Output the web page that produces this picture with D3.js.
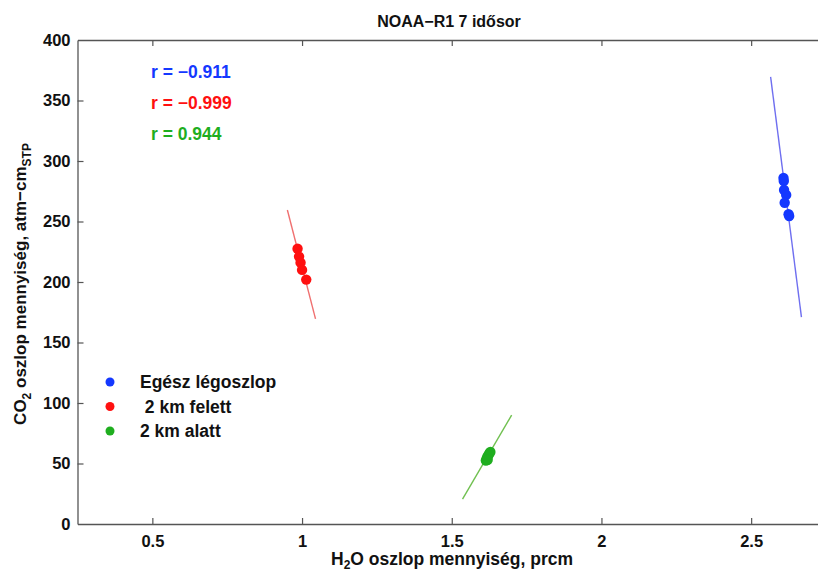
<!DOCTYPE html>
<html><head><meta charset="utf-8">
<script src="https://cdn.jsdelivr.net/npm/d3@7"></script>
<style>
body{margin:0;background:#fff;}
svg{display:block;font-family:Arial,"Liberation Sans",sans-serif;}
</style></head>
<body><svg id="c" width="818" height="574"></svg>
<script>
// Data
const xTicks = [0.5, 1, 1.5, 2, 2.5];
const yTicks = [0, 50, 100, 150, 200, 250, 300, 350, 400];
const seriesNames = ["Egész légoszlop", " 2 km felett", "2 km alatt"];
const seriesColors = ["#1438ff", "#ff1010", "#1fae1f"];
const lineColors = ["#6f6ff0", "#f07070", "#70c050"];
const rLabels = ["r = \u22120.911", "r = \u22120.999", "r = 0.944"];
const blueX = [2.608, 2.609, 2.610, 2.617, 2.612, 2.625, 2.627];
const blueY = [286, 283.5, 276, 272, 265.5, 256, 254.5];
const redX = [0.985, 0.990, 0.995, 1.000, 1.014];
const redY = [227.5, 221, 216, 210, 202];
const greenX = [1.614, 1.617, 1.620, 1.623, 1.626, 1.629, 1.620];
const greenY = [52.5, 54.5, 56, 57, 58.5, 59.5, 53];
// regression line endpoints [x1,y1,x2,y2]
const blueFit = [2.565, 369.5, 2.668, 171];
const redFit = [0.951, 259.5, 1.045, 169.5];
const greenFit = [1.536, 20.5, 1.700, 90];

const series = [
  {x: blueX, y: blueY, fit: blueFit},
  {x: redX, y: redY, fit: redFit},
  {x: greenX, y: greenY, fit: greenFit}
];

const svg = d3.select("#c");
const L = 77.5, T = 40, B = 524;
const x = d3.scaleLinear().domain([0.25, 2.75]).range([L, L + 2.5 * 299.4]);
const y = d3.scaleLinear().domain([0, 400]).range([B, T]);

const axisColor = "#555";
// axes
const gx = svg.append("g").attr("transform", `translate(0,${B})`)
  .call(d3.axisBottom(x).tickValues(xTicks).tickSizeInner(-6).tickSizeOuter(0).tickPadding(18).tickFormat(d3.format("")));
const gxt = svg.append("g").attr("transform", `translate(0,${T})`)
  .call(d3.axisTop(x).tickValues(xTicks).tickSizeInner(-6).tickSizeOuter(0).tickFormat(""));
const gy = svg.append("g").attr("transform", `translate(${L},0)`)
  .call(d3.axisLeft(y).tickValues(yTicks).tickSizeInner(-6).tickSizeOuter(0).tickPadding(7));
[gx, gxt, gy].forEach(g => {
  g.selectAll("path.domain").attr("stroke", axisColor).attr("stroke-width", 1.3);
  g.selectAll(".tick line").attr("stroke", axisColor).attr("stroke-width", 1.2);
  g.selectAll("text").attr("fill", "#111").attr("font-size", 16.5).attr("font-weight", "bold");
});
gx.selectAll("text").attr("dy", "0.3em");
gy.selectAll(".tick").filter(d => d === 0 || d === 400).select("line").remove();

// fit lines
series.forEach((s, i) => {
  svg.append("line")
    .attr("x1", x(s.fit[0])).attr("y1", y(s.fit[1]))
    .attr("x2", x(s.fit[2])).attr("y2", y(s.fit[3]))
    .attr("stroke", lineColors[i]).attr("stroke-width", 1.4);
});
// points
series.forEach((s, i) => {
  svg.append("g").selectAll("circle").data(s.x.map((v, j) => [v, s.y[j]]))
    .join("circle")
    .attr("cx", d => x(d[0])).attr("cy", d => y(d[1])).attr("r", 5.2)
    .attr("fill", seriesColors[i]);
});

// r labels
rLabels.forEach((t, i) => {
  svg.append("text").attr("x", 151).attr("y", 78 + i * 31)
    .attr("font-size", 17.5).attr("font-weight", "bold").attr("fill", seriesColors[i]).text(t);
});

// legend
seriesNames.forEach((t, i) => {
  const yy = 382 + i * 24.5;
  svg.append("circle").attr("cx", 110).attr("cy", yy).attr("r", 4.5).attr("fill", seriesColors[i]);
  svg.append("text").attr("x", 140).attr("y", yy + 6).attr("font-size", 17.5)
    .attr("font-weight", "bold").attr("fill", "#111").attr("xml:space", "preserve").text(t);
});

// title
svg.append("text").attr("x", 449).attr("y", 27).attr("text-anchor", "middle")
  .attr("font-size", 16).attr("font-weight", "bold").attr("fill", "#111").text("NOAA\u2212R1 7 idősor");

// x label
const xl = svg.append("text").attr("x", 452).attr("y", 565).attr("text-anchor", "middle")
  .attr("font-size", 17.5).attr("font-weight", "bold").attr("fill", "#111");
xl.append("tspan").text("H");
xl.append("tspan").attr("font-size", 12).attr("dy", 4).text("2");
xl.append("tspan").attr("dy", -4).text("O oszlop mennyiség, prcm");

// y label
const yl = svg.append("text").attr("transform", "translate(26,284) rotate(-90)")
  .attr("text-anchor", "middle").attr("font-size", 17).attr("font-weight", "bold").attr("fill", "#111");
yl.append("tspan").text("CO");
yl.append("tspan").attr("font-size", 12).attr("dy", 5).text("2");
yl.append("tspan").attr("dy", -5).text(" oszlop mennyiség, atm\u2212cm");
yl.append("tspan").attr("font-size", 12).attr("dy", 5).text("STP");
</script></body></html>
